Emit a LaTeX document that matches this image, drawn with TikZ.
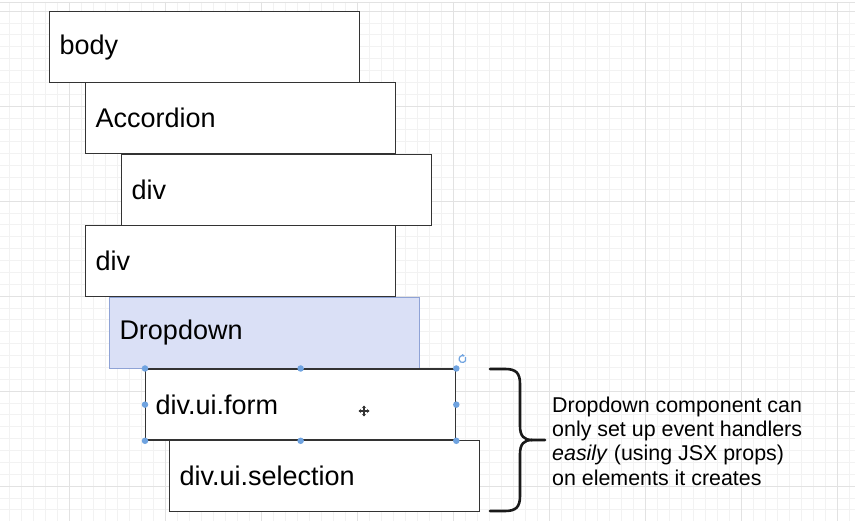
\documentclass[tikz,border=0pt]{standalone}
\usepackage{fontspec}
\setmainfont{Liberation Sans}
\usetikzlibrary{arrows.meta}
\definecolor{gridminor}{HTML}{F2F2F2}
\definecolor{gridmajor}{HTML}{E2E2E2}
\definecolor{boxline}{HTML}{333333}
\definecolor{ddfill}{HTML}{DAE0F6}
\definecolor{ddline}{HTML}{8FA3D6}
\definecolor{handle}{HTML}{6FA3E0}
\tikzset{
  elbox/.style={draw=boxline, line width=1.3pt, fill=white, rectangle, anchor=north west,
    minimum width=310pt, minimum height=71pt, text width=290pt, inner xsep=10pt, inner ysep=0pt,
    align=left, font=\fontsize{27}{30}\selectfont},
  ddbox/.style={elbox, draw=ddline, fill=ddfill, line width=1pt},
  hdot/.style={circle, fill=handle, inner sep=0pt, minimum size=6.5pt},
  note/.style={anchor=west, align=left, font=\fontsize{21.4}{24.3}\selectfont, inner sep=0pt},
}
\begin{document}
\begin{tikzpicture}[x=1pt, y=-1pt]
\useasboundingbox (0,0) rectangle (855,521);
\fill[white] (0,0) rectangle (855,521);
% grid
\foreach \i in {0,...,71} {\draw[gridminor, line width=0.7pt] (9+12*\i,2) -- (9+12*\i,521);}
\foreach \j in {0,...,43} {\draw[gridminor, line width=0.7pt] (0,11+11.875*\j) -- (855,11+11.875*\j);}
\foreach \i in {0,...,8} {\draw[gridmajor, line width=0.9pt] (69+96*\i,2) -- (69+96*\i,521);}
\foreach \j in {0,...,5} {\draw[gridmajor, line width=0.9pt] (0,11+95*\j) -- (855,11+95*\j);}
\draw[gridmajor, line width=0.9pt] (0,2.5) -- (855,2.5);
% boxes
\node[elbox] (body) at (49,11) {body};
\node[elbox] (acc) at (85,82) {Accordion};
\node[elbox] (div1) at (121,154) {div};
\node[elbox] (div2) at (85,225) {div};
\node[ddbox] (dd) at (109,297) {Dropdown};
\node[elbox] (form) at (145,368.5) {div.ui.form};
\node[elbox] (sel) at (169,440) {div.ui.selection};
% selection handles
\foreach \a in {north west, north, north east, west, east, south west, south, south east}
  {\node[hdot] at (form.\a) {};}
\coordinate (rot) at (462.5,359);
\draw[handle, line width=1.2pt] (rot) ++(60:3.5pt) arc[start angle=60, end angle=390, radius=3.5pt];
\draw[handle, line width=1pt] (rot) ++(60:3.5pt) -- ++(-2,-1.5);
% move cursor
\coordinate (cur) at (364,411);
\draw[black!80, line width=1.2pt, -{Stealth[length=2.5pt,width=4pt]}] (cur) -- ++(0,-5.5);
\draw[black!80, line width=1.2pt, -{Stealth[length=2.5pt,width=4pt]}] (cur) -- ++(0,5.5);
\draw[black!80, line width=1.2pt, -{Stealth[length=2.5pt,width=4pt]}] (cur) -- ++(-5.5,0);
\draw[black!80, line width=1.2pt, -{Stealth[length=2.5pt,width=4pt]}] (cur) -- ++(5.5,0);
% brace
\coordinate (btop) at (490,369);
\coordinate (bbot) at (490,511);
\coordinate (btip) at (545,440);
\draw[black!90, line width=2.6pt, line cap=round]
  (btop) -- (505,369) .. controls (516,369) and (520,373) .. (520,384)
  -- (520,426) .. controls (520,436) and (524,440) .. (532,440) -- (btip);
\draw[black!90, line width=2.6pt, line cap=round]
  (bbot) -- (505,511) .. controls (516,511) and (520,507) .. (520,496)
  -- (520,454) .. controls (520,444) and (524,440) .. (532,440);
\node[note] (txt) at (552,441) {Dropdown component can\\only set up event handlers\\\textit{easily} (using JSX props)\\on elements it creates};
\end{tikzpicture}
\end{document}
